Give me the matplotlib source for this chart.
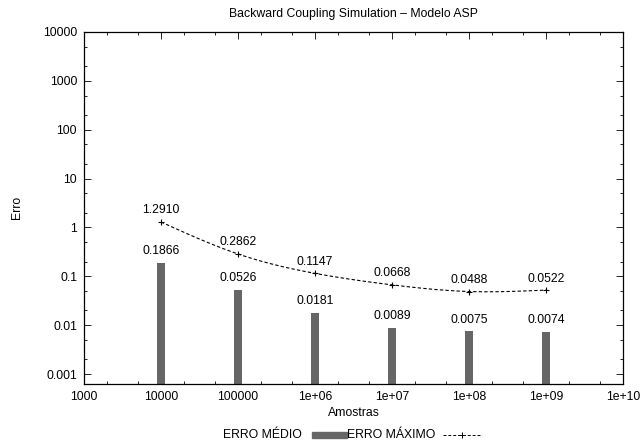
import numpy as np
import matplotlib
matplotlib.use("Agg")
import matplotlib.pyplot as plt
from matplotlib.ticker import LogLocator, FixedLocator, NullFormatter
from matplotlib.lines import Line2D

samples = [1e4, 1e5, 1e6, 1e7, 1e8, 1e9]
erro_medio = [0.1866, 0.0526, 0.0181, 0.0089, 0.0075, 0.0074]
erro_maximo = [1.2910, 0.2862, 0.1147, 0.0668, 0.0488, 0.0522]
x_ticks = [1e3, 1e4, 1e5, 1e6, 1e7, 1e8, 1e9, 1e10]
x_labels = ["1000", "10000", "100000", "1e+06", "1e+07", "1e+08", "1e+09", "1e+10"]
y_ticks = [1e-3, 1e-2, 1e-1, 1, 10, 100, 1000, 10000]
y_labels = ["0.001", "0.01", "0.1", "1", "10", "100", "1000", "10000"]

plt.rcParams['font.family'] = ['Liberation Sans', 'DejaVu Sans']
fs = 8.8
W, H = 643, 448

fig = plt.figure(figsize=(6.43, 4.48), dpi=100)
ax = fig.add_axes([84/W, 1-384/H, (623-84)/W, (384-32)/H])
ax.set_xscale('log')
ax.set_yscale('log')
ax.set_xlim(1e3, 1e10)
ylo = 1e-3 * 10**(-10/48.9)
ax.set_ylim(ylo, 1e4)

# bars (width in log space)
lx = np.log10(samples)
hw = 0.052
for xv, v in zip(lx, erro_medio):
    ax.bar(10**(xv - hw), v - ylo, width=10**(xv + hw) - 10**(xv - hw), bottom=ylo,
           align='edge', color='#666666', edgecolor='none', zorder=2)
    ax.annotate(f"{v:.4f}", (10**xv, v), xytext=(0, 4), textcoords='offset points',
                ha='center', va='bottom', fontsize=fs)

# natural cubic spline through max-error points in log-log space (smoothed line)
def natural_spline(x, y, xs):
    x = np.asarray(x, float); y = np.asarray(y, float)
    n = len(x)
    h = np.diff(x)
    A = np.zeros((n, n)); r = np.zeros(n)
    A[0, 0] = 1; A[-1, -1] = 1
    for i in range(1, n-1):
        A[i, i-1] = h[i-1]; A[i, i] = 2*(h[i-1]+h[i]); A[i, i+1] = h[i]
        r[i] = 3*((y[i+1]-y[i])/h[i] - (y[i]-y[i-1])/h[i-1])
    c = np.linalg.solve(A, r)
    out = np.empty_like(xs)
    for k, xv in enumerate(xs):
        i = min(max(np.searchsorted(x, xv) - 1, 0), n-2)
        b = (y[i+1]-y[i])/h[i] - h[i]*(2*c[i]+c[i+1])/3
        d = (c[i+1]-c[i])/(3*h[i])
        t = xv - x[i]
        out[k] = y[i] + b*t + c[i]*t**2 + d*t**3
    return out

ly = np.log10(erro_maximo)
xs = np.linspace(lx[0], lx[-1], 200)
ys = natural_spline(lx, ly, xs)
ax.plot(10**xs, 10**ys, color='black', lw=0.8, ls=(0, (3, 2)), zorder=3)
ax.plot(samples, erro_maximo, ls='none', marker='+', color='black', ms=5, mew=0.8, zorder=4)
for xv, v in zip(samples, erro_maximo):
    ax.annotate(f"{v:.4f}", (xv, v), xytext=(0, 4), textcoords='offset points',
                ha='center', va='bottom', fontsize=fs)

ax.xaxis.set_major_locator(FixedLocator(x_ticks))
ax.set_xticklabels(x_labels, fontsize=fs)
ax.yaxis.set_major_locator(FixedLocator(y_ticks))
ax.set_yticklabels(y_labels, fontsize=fs)
ax.xaxis.set_minor_locator(LogLocator(base=10, subs=(2, 5), numticks=20))
ax.yaxis.set_minor_locator(LogLocator(base=10, subs=(2, 5), numticks=20))
ax.xaxis.set_minor_formatter(NullFormatter())
ax.yaxis.set_minor_formatter(NullFormatter())
ax.tick_params(which='both', direction='in', top=True, right=True, width=0.6)
ax.tick_params(which='major', length=5, pad=5)
ax.tick_params(which='minor', length=2.5)
for s in ax.spines.values():
    s.set_linewidth(0.9)

fig.text(354/W, 1-413/H, "Amostras", ha='center', va='center', fontsize=fs)
fig.text(17/W, 1-207/H, "Erro", ha='center', va='center', rotation=90, fontsize=fs)
fig.text(353/W, 1-14/H, "Backward Coupling Simulation \u2013 Modelo ASP",
         ha='center', va='center', fontsize=fs)

# legend at bottom
ly_leg = 1-435/H
fig.text(302/W, ly_leg, "ERRO M\u00c9DIO", ha='right', va='center', fontsize=fs)
fig.patches.append(plt.Rectangle((312/W, 1-438/H), 35/W, 6/H,
                                 transform=fig.transFigure, color='#666666', figure=fig))
fig.text(347/W, ly_leg, "ERRO M\u00c1XIMO", ha='left', va='center', fontsize=fs)
fig.add_artist(Line2D([443/W, 482/W], [ly_leg]*2, transform=fig.transFigure,
                      color='black', lw=0.7, ls=(0, (3, 2))))
fig.add_artist(Line2D([462/W], [ly_leg], transform=fig.transFigure, marker='+',
                      color='black', ms=5, mew=0.7, ls='none'))

fig.savefig("out.png", dpi=100)
